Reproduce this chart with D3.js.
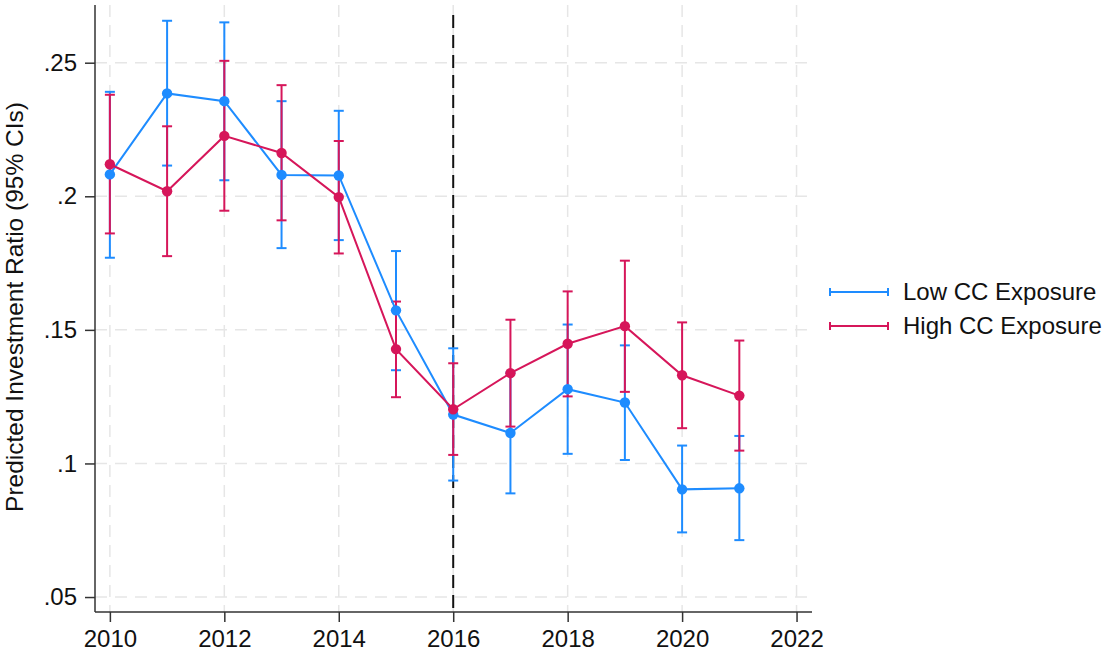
<html>
<head>
<style>
  body { margin: 0; background: #fff; font-family: "Liberation Sans", Arial, sans-serif; }
  .grid line { stroke: #e6e6e6; stroke-width: 1.5; stroke-dasharray: 12, 8; }
  .axis path, .axis line { stroke: #333; stroke-width: 1.5; }
  .axis text { font-size: 24px; fill: #111; font-family: "Liberation Sans", Arial, sans-serif; }
</style>
<script src="https://cdn.jsdelivr.net/npm/d3@7"></script>
</head>
<body>
<div id="chart"></div>
<script>
// values
let years = [2010, 2011, 2012, 2013, 2014, 2015, 2016, 2017, 2018, 2019, 2020, 2021];
let lowEst = [0.2082, 0.2385, 0.2356, 0.2080, 0.2078, 0.1573, 0.1183, 0.1114, 0.1278, 0.1228, 0.0903, 0.0907];
let lowLo  = [0.1770, 0.2115, 0.2060, 0.1806, 0.1836, 0.1349, 0.0936, 0.0888, 0.1036, 0.1013, 0.0742, 0.0713];
let lowHi  = [0.2391, 0.2657, 0.2651, 0.2356, 0.2320, 0.1795, 0.1431, 0.1340, 0.1520, 0.1442, 0.1067, 0.1103];
let highEst = [0.2120, 0.2019, 0.2226, 0.2162, 0.1997, 0.1428, 0.1203, 0.1338, 0.1448, 0.1514, 0.1330, 0.1254];
let highLo  = [0.1861, 0.1776, 0.1946, 0.1910, 0.1786, 0.1248, 0.1032, 0.1138, 0.1251, 0.1268, 0.1132, 0.1048];
let highHi  = [0.2380, 0.2262, 0.2507, 0.2416, 0.2207, 0.1606, 0.1375, 0.1538, 0.1644, 0.1759, 0.1528, 0.1460];
let xTicks = [2010, 2012, 2014, 2016, 2018, 2020, 2022];
let yTicks = [0.05, 0.1, 0.15, 0.2, 0.25];
let yTickLabels = [".05", ".1", ".15", ".2", ".25"];
let seriesNames = ["Low CC Exposure", "High CC Exposure"];
let seriesColors = ["#1e8cff", "#d6165a"];
let cutYear = 2016;

let width = 1113, height = 658;
let margin = { top: 5, left: 95, right: 301, bottom: 46 };

let svg = d3.select("#chart").append("svg")
  .attr("width", width).attr("height", height);

let x = d3.scaleLinear().domain([2009.74, 2022.27]).range([margin.left, width - margin.right]);
let y = d3.scaleLinear().domain([0.0444, 0.2716]).range([height - margin.bottom, margin.top]);

// grid
let grid = svg.append("g").attr("class", "grid");
grid.selectAll(".h").data(yTicks).enter().append("line")
  .attr("x1", margin.left).attr("x2", width - margin.right)
  .attr("y1", d => y(d)).attr("y2", d => y(d));
grid.selectAll(".v").data(xTicks).enter().append("line")
  .attr("x1", d => x(d)).attr("x2", d => x(d))
  .attr("y1", margin.top).attr("y2", height - margin.bottom);

// reference line
svg.append("line")
  .attr("x1", x(cutYear)).attr("x2", x(cutYear))
  .attr("y1", margin.top + 10).attr("y2", height - margin.bottom)
  .style("stroke", "#111").style("stroke-width", 2).style("stroke-dasharray", "13,7");

// axes
let yAxis = d3.axisLeft(y).tickValues(yTicks).tickSize(10).tickPadding(8)
  .tickFormat((d, i) => yTickLabels[i]);
svg.append("g").attr("class", "axis").attr("transform", "translate(" + margin.left + ",0)")
  .call(yAxis);
let xAxis = d3.axisBottom(x).tickValues(xTicks).tickSize(10).tickPadding(8).tickFormat(d3.format("d"));
svg.append("g").attr("class", "axis").attr("transform", "translate(0," + (height - margin.bottom) + ")")
  .call(xAxis);
svg.selectAll(".axis path.domain").attr("d", function() {
  return d3.select(this.parentNode).attr("transform").indexOf("translate(0,") === 0
    ? "M" + margin.left + ",0H" + (width - margin.right)
    : "M0," + margin.top + "V" + (height - margin.bottom);
});

svg.append("text")
  .attr("transform", "translate(23,307) rotate(-90)")
  .attr("text-anchor", "middle")
  .style("font-size", "24.5px").style("fill", "#111")
  .text("Predicted Investment Ratio (95% CIs)");

// series
let series = [
  { est: lowEst, lo: lowLo, hi: lowHi },
  { est: highEst, lo: highLo, hi: highHi }
];
let cap = 5;

series.forEach((s, k) => {
  let g = svg.append("g");
  let c = seriesColors[k];
  years.forEach((yr, i) => {
    g.append("line").attr("x1", x(yr)).attr("x2", x(yr)).attr("y1", y(s.lo[i])).attr("y2", y(s.hi[i]))
      .style("stroke", c).style("stroke-width", 2);
    [s.lo[i], s.hi[i]].forEach(v => {
      g.append("line").attr("x1", x(yr) - cap).attr("x2", x(yr) + cap).attr("y1", y(v)).attr("y2", y(v))
        .style("stroke", c).style("stroke-width", 2);
    });
  });
});

series.forEach((s, k) => {
  let c = seriesColors[k];
  let line = d3.line().x((d, i) => x(years[i])).y(d => y(d));
  svg.append("path").attr("d", line(s.est)).style("fill", "none").style("stroke", c).style("stroke-width", 2);
  svg.selectAll(null).data(s.est).enter().append("circle")
    .attr("cx", (d, i) => x(years[i])).attr("cy", d => y(d)).attr("r", 5.2).style("fill", c);
});

// legend
let lg = svg.append("g");
seriesNames.forEach((name, k) => {
  let yy = 292 + k * 34;
  let c = seriesColors[k];
  lg.append("line").attr("x1", 830).attr("x2", 888).attr("y1", yy).attr("y2", yy).style("stroke", c).style("stroke-width", 2);
  [830, 888].forEach(xx => lg.append("line").attr("x1", xx).attr("x2", xx).attr("y1", yy - 4).attr("y2", yy + 4)
    .style("stroke", c).style("stroke-width", 2));
  lg.append("text").attr("x", 903).attr("y", yy + 8).style("font-size", "24px").style("fill", "#111").text(name);
});
</script>
</body>
</html>
